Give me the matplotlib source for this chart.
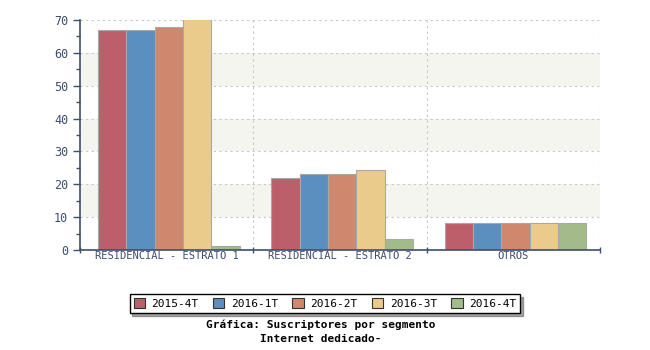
import matplotlib
matplotlib.use("Agg")
import matplotlib.pyplot as plt
import numpy as np
from matplotlib.patches import Rectangle

categories = ["RESIDENCIAL - ESTRATO 1", "RESIDENCIAL - ESTRATO 2", "OTROS"]
series_names = ["2015-4T", "2016-1T", "2016-2T", "2016-3T", "2016-4T"]
v_2015_4T = [67.0, 22.0, 8.1]
v_2016_1T = [67.0, 23.2, 8.1]
v_2016_2T = [68.0, 23.2, 8.1]
v_2016_3T = [70.2, 24.2, 8.1]
v_2016_4T = [1.2, 3.3, 8.1]
series_values = [v_2015_4T, v_2016_1T, v_2016_2T, v_2016_3T, v_2016_4T]
colors = ["#bd5f6b", "#5b8fbf", "#cf876e", "#ebcb8b", "#a3bb8b"]
title_lines = ["Gráfica: Suscriptores por segmento", "Internet dedicado-"]

axis_color = "#3f4d6e"
mono = "DejaVu Sans Mono"

fig = plt.figure(figsize=(6.5, 3.5), dpi=100)
ax = fig.add_axes([80/650, 1-250/350, 520/650, 230/350])

ymax = 70
ax.set_xlim(0, 3)
ax.set_ylim(0, ymax)

# alternating bands
for lo in (10, 30, 50):
    ax.axhspan(lo, lo + 10, color="#f5f5f0", zorder=0, lw=0)
for y in range(10, 71, 10):
    ax.axhline(y, color="#c8c8c8", lw=0.8, ls=(0, (2, 3)), zorder=0.5)
for x in (1, 2, 3):
    ax.axvline(x, color="#c8c8c8", lw=0.8, ls=(0, (2, 3)), zorder=0.5)

n = len(series_names)
group_w = 0.818
bw = group_w / n
start = 0.104
for i, (name, vals, c) in enumerate(zip(series_names, series_values, colors)):
    xs = np.arange(len(categories)) + start + i * bw
    ax.bar(xs, vals, width=bw, align="edge", color=c, edgecolor="#a8a8a8",
           linewidth=0.8, zorder=2, label=name)

ax.spines["top"].set_visible(False)
ax.spines["right"].set_visible(False)
for s in ("left", "bottom"):
    ax.spines[s].set_color(axis_color)
    ax.spines[s].set_linewidth(1.2)

ax.set_yticks(range(0, 71, 10))
ax.set_yticks(range(5, 70, 10), minor=True)
ax.tick_params(axis="y", which="major", length=5, color=axis_color, labelcolor=axis_color,
               labelsize=8.5, width=1)
ax.tick_params(axis="y", which="minor", length=3, color=axis_color, width=1)
for lab in ax.get_yticklabels():
    lab.set_family(mono)

ax.set_xticks([0, 1, 2, 3])
ax.set_xticklabels([])
ax.tick_params(axis="x", which="major", length=5, color=axis_color, width=1, direction="inout")
ax.set_xticks([0.5, 1.5, 2.5], minor=True)
ax.set_xticklabels(categories, minor=True, family=mono, fontsize=7.5, color=axis_color)
ax.tick_params(axis="x", which="minor", length=0, pad=1)

# legend
handles = [Rectangle((0, 0), 1, 1, facecolor=c, edgecolor="#333333", lw=0.8) for c in colors]
leg = fig.legend(handles, series_names, loc="center", bbox_to_anchor=(325/650, 1-303.5/350),
                 ncol=5, frameon=True, fancybox=False, shadow=True,
                 prop={"family": mono, "size": 8}, handlelength=1.0, handleheight=1.0,
                 columnspacing=1.3, handletextpad=0.6, borderpad=0.35)
leg.get_frame().set_edgecolor("#000000")
leg.get_frame().set_linewidth(1.0)

fig.text(321/650, 1-324/350, title_lines[0], ha="center", va="center_baseline",
         family=mono, fontsize=8, fontweight="bold")
fig.text(321/650, 1-338/350, title_lines[1], ha="center", va="center_baseline",
         family=mono, fontsize=8, fontweight="bold")

fig.savefig("out.png", dpi=100)
